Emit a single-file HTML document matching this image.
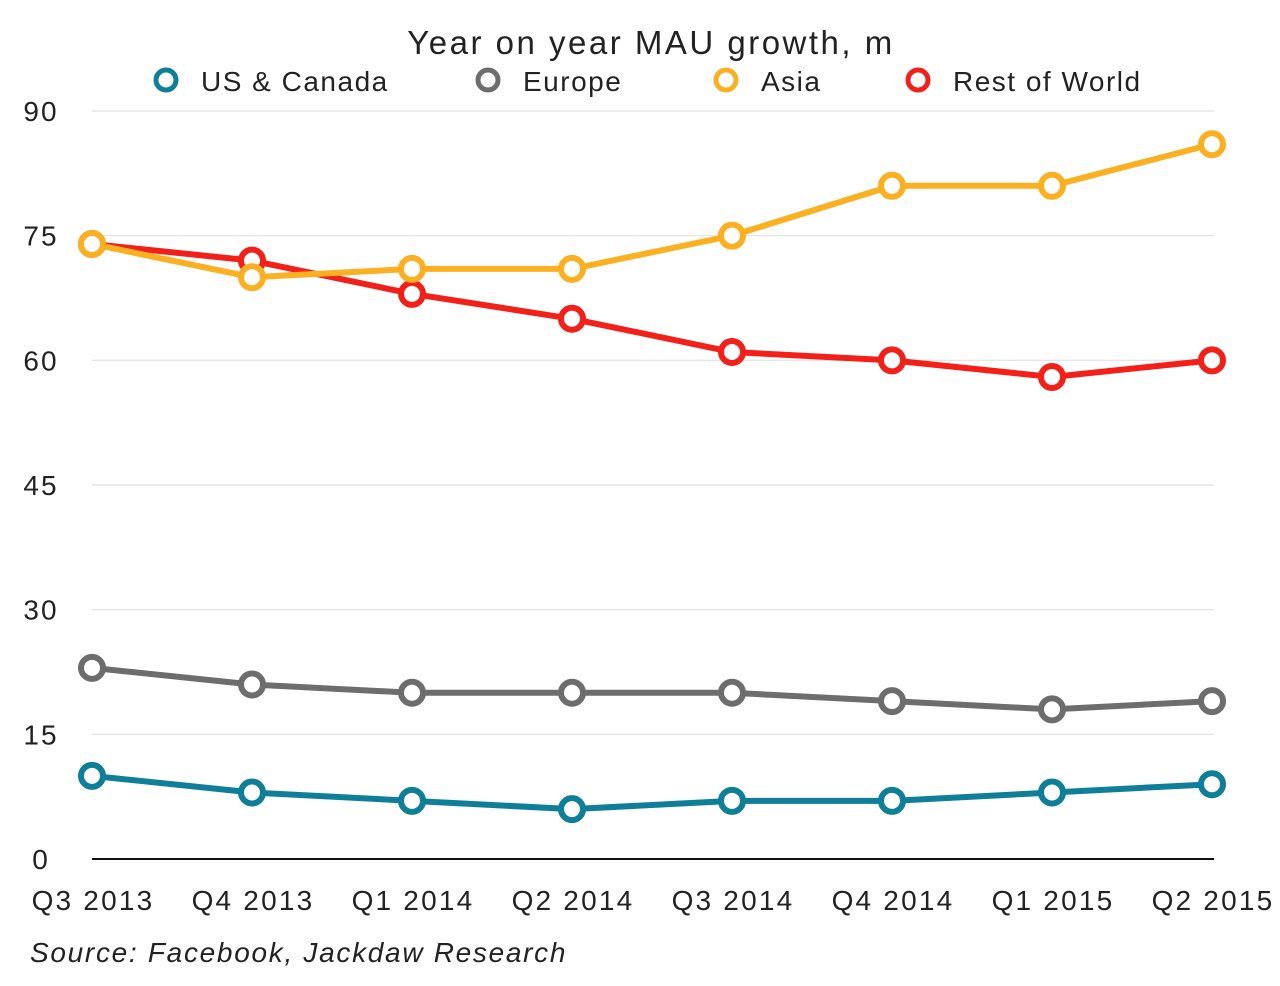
<!DOCTYPE html>
<html><head><meta charset="utf-8">
<style>
html,body{margin:0;padding:0;background:#fff;}
svg{display:block;font-family:"Liberation Sans",sans-serif;}
</style></head>
<body>
<svg id="chart" width="1280" height="986" viewBox="0 0 1280 986">
<text x="651" y="54" text-anchor="middle" font-size="33" letter-spacing="2.5" fill="#222">Year on year MAU growth, m</text>
<g id="legend"></g>
<g id="grid"></g>
<g id="yticks"></g>
<g id="xticks"></g>
<line x1="92" y1="859" x2="1214" y2="859" stroke="#111" stroke-width="2"/>
<g id="series"></g>
<text x="30" y="962" font-size="28" font-style="italic" letter-spacing="1.7" fill="#222">Source: Facebook, Jackdaw Research</text>
</svg>
<script>
const categories = ["Q3 2013","Q4 2013","Q1 2014","Q2 2014","Q3 2014","Q4 2014","Q1 2015","Q2 2015"];
const yTicks = [0,15,30,45,60,75,90];
const seriesNames = ["US & Canada","Europe","Asia","Rest of World"];
const usCanada = [10,8,7,6,7,7,8,9];
const europe = [23,21,20,20,20,19,18,19];
const asia = [74,70,71,71,75,81,81,86];
const restOfWorld = [74,72,68,65,61,60,58,60];

const NS="http://www.w3.org/2000/svg";
const colors=["#0f7e99","#6d6d6d","#fbb022","#f3201a"];
const allSeries=[usCanada,europe,restOfWorld,asia];
const allColors=[colors[0],colors[1],colors[3],colors[2]];
const allNames=[seriesNames[0],seriesNames[1],seriesNames[3],seriesNames[2]];
const x0=92,x1=1212,y0=859,y1=111,yMax=90;
function xs(i){return x0+(x1-x0)*i/(categories.length-1);}
function ys(v){return y0-(y0-y1)*v/yMax;}
function mk(tag,attrs,parent){const e=document.createElementNS(NS,tag);for(const k in attrs)e.setAttribute(k,attrs[k]);parent.appendChild(e);return e;}
const grid=document.getElementById('grid'),yt=document.getElementById('yticks'),xt=document.getElementById('xticks'),sg=document.getElementById('series'),lg=document.getElementById('legend');
yTicks.forEach(v=>{
  if(v>0){const l=mk('line',{x1:92,x2:1214,y1:ys(v),y2:ys(v),stroke:'#e6e6e6','stroke-width':1.5},grid);
  
  }
  const t=mk('text',{x:41,y:ys(v)+10,'text-anchor':'middle','font-size':28,'letter-spacing':2,fill:'#222'},yt);
  t.textContent=v;
  
  
});
categories.forEach((c,i)=>{
  const t=mk('text',{x:xs(i)+1,y:910,'text-anchor':'middle','font-size':28,'letter-spacing':2.2,fill:'#222'},xt);
  t.textContent=c;
  
  
});
allSeries.forEach((s,k)=>{
  const g=mk('g',{},sg);
  
  
  const p=mk('polyline',{points:s.map((v,i)=>xs(i)+','+ys(v)).join(' '),fill:'none',stroke:allColors[k],'stroke-width':6,'stroke-linejoin':'round'},g);
  
  
  s.forEach((v,i)=>{
    const c=mk('circle',{cx:xs(i),cy:ys(v),r:11,fill:'#fff',stroke:allColors[k],'stroke-width':6},g);
    
    
  });
});
const legX=[166,488,726,918];
seriesNames.forEach((n,k)=>{
  const g=mk('g',{},lg);
  
  
  mk('circle',{cx:legX[k],cy:80,r:10,fill:'#fff',stroke:colors[k],'stroke-width':5},g);
  const t=mk('text',{x:legX[k]+35,y:91,'font-size':28,'letter-spacing':1.5,fill:'#222'},g);
  t.textContent=n;
});
</script>
</body></html>
